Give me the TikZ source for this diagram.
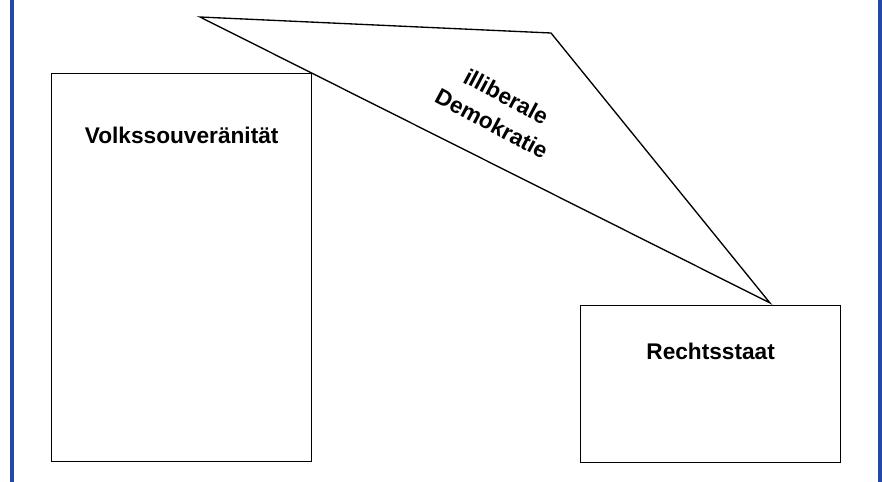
\documentclass[tikz,border=0pt]{standalone}
\usepackage{fontspec}
\setmainfont{Liberation Sans}
\usetikzlibrary{positioning}

\definecolor{framblue}{RGB}{35,72,165}

\begin{document}
\begin{tikzpicture}[x=0.75pt, y=-0.75pt,
    box/.style={draw, line width=1pt, minimum width=195pt, inner sep=0pt, anchor=north west},
    lbl/.style={font=\fontsize{17}{23}\selectfont\bfseries, inner sep=0pt, align=center},
    frameline/.style={framblue, line width=2.4pt}]
  \useasboundingbox (0,0) rectangle (882,482);
  % side rules
  \draw [frameline] (12,0) -- (12,482);
  \draw [frameline] (880,0) -- (880,482);
  % the two boxes
  \node [box, minimum height=291pt] (volk) at (51,73) {};
  \node [box, minimum height=117.75pt] (recht) at (580,305) {};
  \node [lbl, below=40pt of volk.north] (volktxt) {Volkssouveränität};
  \node [lbl, below=28pt of recht.north] (rechttxt) {Rechtsstaat};
  % triangle
  \coordinate (tl) at (200,17);
  \coordinate (tr) at (551,33);
  \coordinate (tb) at (770,303);
  \draw [line width=1pt, line join=miter] (tl) -- (tr) -- (tb) -- cycle;
  \node [lbl, rotate=-28] (illib) at (499,110) {illiberale\\Demokratie};
\end{tikzpicture}
\end{document}
